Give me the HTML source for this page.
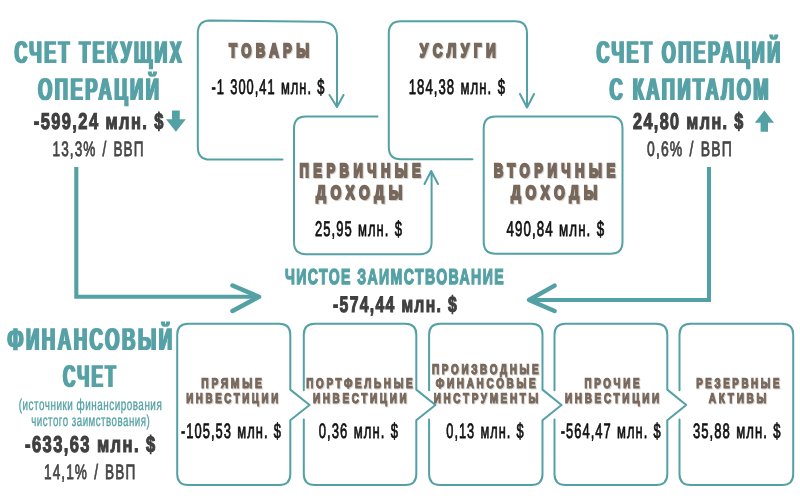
<!DOCTYPE html><html><head><meta charset="utf-8"><style>html,body{margin:0;padding:0;background:#fff}svg{display:block}</style></head><body><svg width="800" height="500" viewBox="0 0 800 500" font-family="'Liberation Sans', sans-serif" text-rendering="geometricPrecision"><defs>
<filter id="fA" x="-5%" y="-30%" width="110%" height="160%"><feMorphology operator="dilate" radius="1 0"/></filter>
<filter id="fS" x="-5%" y="-30%" width="110%" height="170%"><feGaussianBlur in="SourceGraphic" stdDeviation="0.45 0" result="t"/><feOffset in="t" dx="1" dy="1" result="o"/><feGaussianBlur in="o" stdDeviation="0.5" result="ob"/><feComponentTransfer in="ob" result="sh"><feFuncA type="linear" slope="0.3"/></feComponentTransfer><feMerge><feMergeNode in="sh"/><feMergeNode in="t"/></feMerge></filter>
<filter id="fs" x="-5%" y="-30%" width="110%" height="170%"><feOffset in="SourceGraphic" dx="0.8" dy="0.8" result="o"/><feGaussianBlur in="o" stdDeviation="0.4" result="ob"/><feComponentTransfer in="ob" result="sh"><feFuncA type="linear" slope="0.25"/></feComponentTransfer><feMerge><feMergeNode in="sh"/><feMergeNode in="SourceGraphic"/></feMerge></filter>
<filter id="fN" x="-5%" y="-30%" width="110%" height="160%"><feOffset dx="0" dy="0"/></filter>
</defs>
<path d="M282.5,159.6 H210 Q197.8,159.6 197.8,147 V33.5 Q197.8,20.8 210,20.6 L321,21.8 Q337,22.4 337,37 V106 M329.5,95 L337,107 L343.5,95" fill="none" stroke="#54a1a5" stroke-width="2.0" stroke-linecap="round" stroke-linejoin="round"/>
<path d="M472.5,159.3 H401 Q388.8,159.3 388.8,147 V33.5 Q388.8,21.2 401,21.2 H515 Q527,21.2 527,33.5 V106.5 M520,94 L527,107.5 L534,94" fill="none" stroke="#54a1a5" stroke-width="2.0" stroke-linecap="round" stroke-linejoin="round"/>
<path d="M377.5,116.4 H306 Q294,116.4 294,128.5 V242 Q294,254.2 306,254.2 H420 Q431.6,254.2 431.6,242 V172 M424.5,184 L431.2,171 L438,184" fill="none" stroke="#54a1a5" stroke-width="2.0" stroke-linecap="round" stroke-linejoin="round"/>
<path d="M495.7,116.6 H610.5 Q622.5,116.6 622.5,128.6 V241.8 Q622.5,253.8 610.5,253.8 H495.7 Q483.7,253.8 483.7,241.8 V128.6 Q483.7,116.6 495.7,116.6 Z" fill="none" stroke="#54a1a5" stroke-width="2.0" stroke-linecap="round" stroke-linejoin="round"/>
<path d="M177.2,405 V334.8 Q177.2,323.8 188.2,323.8 H279.3 Q290.3,323.8 290.3,334.8 V389.6 L309.6,405 L290.3,420.2 V474 Q290.3,485 279.3,485 H188.2 Q177.2,485 177.2,474 V405" fill="none" stroke="#54a1a5" stroke-width="2.0" stroke-linecap="round" stroke-linejoin="round"/>
<path d="M303.8,390.3 V334.8 Q303.8,323.8 314.8,323.8 H405.3 Q416.3,323.8 416.3,334.8 V389.6 L435.4,405 L416.3,420.2 V474 Q416.3,485 405.3,485 H314.8 Q303.8,485 303.8,474 V419.6" fill="none" stroke="#54a1a5" stroke-width="2.0" stroke-linecap="round" stroke-linejoin="round"/>
<path d="M429.1,390.3 V334.8 Q429.1,323.8 440.1,323.8 H531.5 Q542.5,323.8 542.5,334.8 V389.6 L561.5,405 L542.5,420.2 V474 Q542.5,485 531.5,485 H440.1 Q429.1,485 429.1,474 V419.6" fill="none" stroke="#54a1a5" stroke-width="2.0" stroke-linecap="round" stroke-linejoin="round"/>
<path d="M554.5,390.3 V334.8 Q554.5,323.8 565.5,323.8 H656.3 Q667.3,323.8 667.3,334.8 V389.6 L686.2,405 L667.3,420.2 V474 Q667.3,485 656.3,485 H565.5 Q554.5,485 554.5,474 V419.6" fill="none" stroke="#54a1a5" stroke-width="2.0" stroke-linecap="round" stroke-linejoin="round"/>
<path d="M679.5,390.3 V334.8 Q679.5,323.8 690.5,323.8 H782.2 Q793.2,323.8 793.2,334.8 V474 Q793.2,485 782.2,485 H690.5 Q679.5,485 679.5,474 V419.6" fill="none" stroke="#54a1a5" stroke-width="2.0" stroke-linecap="round" stroke-linejoin="round"/>
<path d="M76.3,167 V296.8 H257" fill="none" stroke="#54a1a5" stroke-width="4.1" stroke-linejoin="miter"/>
<path d="M232.5,285.5 L259,296.8 L232.5,311" fill="none" stroke="#54a1a5" stroke-width="4.5" stroke-linecap="round" stroke-linejoin="round"/>
<path d="M709,167 V300 H531" fill="none" stroke="#54a1a5" stroke-width="4.1" stroke-linejoin="miter"/>
<path d="M554.6,285.6 L529,300 L554.6,311" fill="none" stroke="#54a1a5" stroke-width="4.5" stroke-linecap="round" stroke-linejoin="round"/>
<polygon points="172,110.5 179.75,110.5 179.75,119.2 185.8,119.2 175.9,131.8 166,119.2 172,119.2" fill="#54a1a5"/>
<polygon points="764.4,110.4 774,122.8 768,122.8 768,131.8 760.6,131.8 760.6,122.8 754.8,122.8" fill="#54a1a5"/>
<text x="14.50" y="63" font-size="31.49" font-weight="bold" fill="#54a1a5" letter-spacing="4.25" textLength="169.52" lengthAdjust="spacingAndGlyphs" filter="url(#fA)">СЧЕТ ТЕКУЩИХ</text>
<text x="38.00" y="100" font-size="31.49" font-weight="bold" fill="#54a1a5" letter-spacing="4.25" textLength="123.53" lengthAdjust="spacingAndGlyphs" filter="url(#fA)">ОПЕРАЦИЙ</text>
<text x="596.50" y="63" font-size="31.49" font-weight="bold" fill="#54a1a5" letter-spacing="4.25" textLength="186.04" lengthAdjust="spacingAndGlyphs" filter="url(#fA)">СЧЕТ ОПЕРАЦИЙ</text>
<text x="609.50" y="100" font-size="31.49" font-weight="bold" fill="#54a1a5" letter-spacing="4.25" textLength="161.55" lengthAdjust="spacingAndGlyphs" filter="url(#fA)">С КАПИТАЛОМ</text>
<text x="7.50" y="350" font-size="31.49" font-weight="bold" fill="#54a1a5" letter-spacing="4.25" textLength="167.04" lengthAdjust="spacingAndGlyphs" filter="url(#fA)">ФИНАНСОВЫЙ</text>
<text x="63.00" y="387" font-size="31.49" font-weight="bold" fill="#54a1a5" letter-spacing="4.25" textLength="55.05" lengthAdjust="spacingAndGlyphs" filter="url(#fA)">СЧЕТ</text>
<text x="285.00" y="284" font-size="21.57" font-weight="bold" fill="#54a1a5" letter-spacing="2.16" textLength="220.01" lengthAdjust="spacingAndGlyphs" filter="url(#fN)" stroke="#54a1a5" stroke-width="1.4" stroke-linejoin="miter" stroke-miterlimit="2">ЧИСТОЕ ЗАИМСТВОВАНИЕ</text>
<text x="33.75" y="129" font-size="22.81" font-weight="bold" fill="#3f3f3f" letter-spacing="1.94" textLength="131.01" lengthAdjust="spacingAndGlyphs" filter="url(#fN)" stroke="#3f3f3f" stroke-width="1.15" stroke-linejoin="miter" stroke-miterlimit="2">-599,24 млн. $</text>
<text x="633.00" y="129" font-size="22.81" font-weight="bold" fill="#3f3f3f" letter-spacing="1.94" textLength="111.76" lengthAdjust="spacingAndGlyphs" filter="url(#fN)" stroke="#3f3f3f" stroke-width="1.15" stroke-linejoin="miter" stroke-miterlimit="2">24,80 млн. $</text>
<text x="25.00" y="452" font-size="22.81" font-weight="bold" fill="#3f3f3f" letter-spacing="1.94" textLength="131.52" lengthAdjust="spacingAndGlyphs" filter="url(#fN)" stroke="#3f3f3f" stroke-width="1.15" stroke-linejoin="miter" stroke-miterlimit="2">-633,63 млн. $</text>
<text x="333.00" y="312" font-size="22.38" font-weight="bold" fill="#3f3f3f" letter-spacing="1.90" textLength="125.01" lengthAdjust="spacingAndGlyphs" filter="url(#fN)" stroke="#3f3f3f" stroke-width="1.15" stroke-linejoin="miter" stroke-miterlimit="2">-574,44 млн. $</text>
<text x="52.50" y="156" font-size="20.85" font-weight="normal" fill="#454545" letter-spacing="1.67" word-spacing="1.88" textLength="92.07" lengthAdjust="spacingAndGlyphs" filter="url(#fN)" stroke="#454545" stroke-width="0.8" stroke-linejoin="miter" stroke-miterlimit="2">13,3% / ВВП</text>
<text x="647.00" y="156" font-size="20.85" font-weight="normal" fill="#454545" letter-spacing="1.67" word-spacing="1.88" textLength="85.80" lengthAdjust="spacingAndGlyphs" filter="url(#fN)" stroke="#454545" stroke-width="0.8" stroke-linejoin="miter" stroke-miterlimit="2">0,6% / ВВП</text>
<text x="44.00" y="479" font-size="20.85" font-weight="normal" fill="#454545" letter-spacing="1.67" word-spacing="1.88" textLength="92.33" lengthAdjust="spacingAndGlyphs" filter="url(#fN)" stroke="#454545" stroke-width="0.8" stroke-linejoin="miter" stroke-miterlimit="2">14,1% / ВВП</text>
<text x="18.75" y="410" font-size="15.96" font-weight="normal" fill="#54a1a5" letter-spacing="0.80" textLength="143.51" lengthAdjust="spacingAndGlyphs" filter="url(#fN)" stroke="#54a1a5" stroke-width="0.35" stroke-linejoin="miter" stroke-miterlimit="2">(источники финансирования</text>
<text x="31.25" y="426" font-size="15.96" font-weight="normal" fill="#54a1a5" letter-spacing="0.80" textLength="119.03" lengthAdjust="spacingAndGlyphs" filter="url(#fN)" stroke="#54a1a5" stroke-width="0.35" stroke-linejoin="miter" stroke-miterlimit="2">чистого заимствования)</text>
<text x="229.00" y="57" font-size="19.10" font-weight="bold" fill="#78685c" letter-spacing="6.49" textLength="84.64" lengthAdjust="spacingAndGlyphs" filter="url(#fS)" stroke="#78685c" stroke-width="2.0" stroke-linejoin="miter" stroke-miterlimit="2">ТОВАРЫ</text>
<text x="419.75" y="57" font-size="19.10" font-weight="bold" fill="#78685c" letter-spacing="6.49" textLength="80.65" lengthAdjust="spacingAndGlyphs" filter="url(#fS)" stroke="#78685c" stroke-width="2.0" stroke-linejoin="miter" stroke-miterlimit="2">УСЛУГИ</text>
<text x="299.50" y="177" font-size="19.10" font-weight="bold" fill="#78685c" letter-spacing="6.49" textLength="125.62" lengthAdjust="spacingAndGlyphs" filter="url(#fS)" stroke="#78685c" stroke-width="2.0" stroke-linejoin="miter" stroke-miterlimit="2">ПЕРВИЧНЫЕ</text>
<text x="316.00" y="199" font-size="19.10" font-weight="bold" fill="#78685c" letter-spacing="6.49" textLength="91.11" lengthAdjust="spacingAndGlyphs" filter="url(#fS)" stroke="#78685c" stroke-width="2.0" stroke-linejoin="miter" stroke-miterlimit="2">ДОХОДЫ</text>
<text x="493.75" y="177" font-size="19.10" font-weight="bold" fill="#78685c" letter-spacing="6.49" textLength="125.89" lengthAdjust="spacingAndGlyphs" filter="url(#fS)" stroke="#78685c" stroke-width="2.0" stroke-linejoin="miter" stroke-miterlimit="2">ВТОРИЧНЫЕ</text>
<text x="511.00" y="199" font-size="19.10" font-weight="bold" fill="#78685c" letter-spacing="6.49" textLength="91.11" lengthAdjust="spacingAndGlyphs" filter="url(#fS)" stroke="#78685c" stroke-width="2.0" stroke-linejoin="miter" stroke-miterlimit="2">ДОХОДЫ</text>
<text x="201.25" y="388" font-size="13.99" font-weight="bold" fill="#78685c" letter-spacing="3.78" textLength="63.33" lengthAdjust="spacingAndGlyphs" filter="url(#fs)" stroke="#78685c" stroke-width="1.2" stroke-linejoin="miter" stroke-miterlimit="2">ПРЯМЫЕ</text>
<text x="186.25" y="403" font-size="13.99" font-weight="bold" fill="#78685c" letter-spacing="3.78" textLength="94.56" lengthAdjust="spacingAndGlyphs" filter="url(#fs)" stroke="#78685c" stroke-width="1.2" stroke-linejoin="miter" stroke-miterlimit="2">ИНВЕСТИЦИИ</text>
<text x="306.25" y="388" font-size="13.99" font-weight="bold" fill="#78685c" letter-spacing="3.78" textLength="109.05" lengthAdjust="spacingAndGlyphs" filter="url(#fs)" stroke="#78685c" stroke-width="1.2" stroke-linejoin="miter" stroke-miterlimit="2">ПОРТФЕЛЬНЫЕ</text>
<text x="313.00" y="403" font-size="13.99" font-weight="bold" fill="#78685c" letter-spacing="3.78" textLength="96.33" lengthAdjust="spacingAndGlyphs" filter="url(#fs)" stroke="#78685c" stroke-width="1.2" stroke-linejoin="miter" stroke-miterlimit="2">ИНВЕСТИЦИИ</text>
<text x="432.00" y="374" font-size="13.99" font-weight="bold" fill="#78685c" letter-spacing="3.78" textLength="109.30" lengthAdjust="spacingAndGlyphs" filter="url(#fs)" stroke="#78685c" stroke-width="1.2" stroke-linejoin="miter" stroke-miterlimit="2">ПРОИЗВОДНЫЕ</text>
<text x="435.75" y="388" font-size="13.99" font-weight="bold" fill="#78685c" letter-spacing="3.78" textLength="102.56" lengthAdjust="spacingAndGlyphs" filter="url(#fs)" stroke="#78685c" stroke-width="1.2" stroke-linejoin="miter" stroke-miterlimit="2">ФИНАНСОВЫЕ</text>
<text x="433.75" y="403" font-size="13.99" font-weight="bold" fill="#78685c" letter-spacing="3.78" textLength="107.07" lengthAdjust="spacingAndGlyphs" filter="url(#fs)" stroke="#78685c" stroke-width="1.2" stroke-linejoin="miter" stroke-miterlimit="2">ИНСТРУМЕНТЫ</text>
<text x="584.50" y="388" font-size="13.99" font-weight="bold" fill="#78685c" letter-spacing="3.78" textLength="57.60" lengthAdjust="spacingAndGlyphs" filter="url(#fs)" stroke="#78685c" stroke-width="1.2" stroke-linejoin="miter" stroke-miterlimit="2">ПРОЧИЕ</text>
<text x="565.00" y="403" font-size="13.99" font-weight="bold" fill="#78685c" letter-spacing="3.78" textLength="96.84" lengthAdjust="spacingAndGlyphs" filter="url(#fs)" stroke="#78685c" stroke-width="1.2" stroke-linejoin="miter" stroke-miterlimit="2">ИНВЕСТИЦИИ</text>
<text x="696.25" y="388" font-size="13.99" font-weight="bold" fill="#78685c" letter-spacing="3.78" textLength="85.80" lengthAdjust="spacingAndGlyphs" filter="url(#fs)" stroke="#78685c" stroke-width="1.2" stroke-linejoin="miter" stroke-miterlimit="2">РЕЗЕРВНЫЕ</text>
<text x="708.75" y="403" font-size="13.99" font-weight="bold" fill="#78685c" letter-spacing="3.78" textLength="60.32" lengthAdjust="spacingAndGlyphs" filter="url(#fs)" stroke="#78685c" stroke-width="1.2" stroke-linejoin="miter" stroke-miterlimit="2">АКТИВЫ</text>
<text x="211.50" y="94" font-size="20.99" font-weight="normal" fill="#111111" letter-spacing="1.68" word-spacing="1.05" textLength="114.02" lengthAdjust="spacingAndGlyphs" filter="url(#fN)" stroke="#111111" stroke-width="0.8" stroke-linejoin="miter" stroke-miterlimit="2">-1 300,41 млн. $</text>
<text x="408.75" y="94" font-size="20.99" font-weight="normal" fill="#111111" letter-spacing="1.68" word-spacing="1.05" textLength="97.27" lengthAdjust="spacingAndGlyphs" filter="url(#fN)" stroke="#111111" stroke-width="0.8" stroke-linejoin="miter" stroke-miterlimit="2">184,38 млн. $</text>
<text x="315.00" y="236" font-size="21.14" font-weight="normal" fill="#111111" letter-spacing="1.69" word-spacing="1.06" textLength="88.01" lengthAdjust="spacingAndGlyphs" filter="url(#fN)" stroke="#111111" stroke-width="0.8" stroke-linejoin="miter" stroke-miterlimit="2">25,95 млн. $</text>
<text x="506.50" y="236" font-size="21.14" font-weight="normal" fill="#111111" letter-spacing="1.69" word-spacing="1.06" textLength="98.76" lengthAdjust="spacingAndGlyphs" filter="url(#fN)" stroke="#111111" stroke-width="0.8" stroke-linejoin="miter" stroke-miterlimit="2">490,84 млн. $</text>
<text x="181.00" y="438" font-size="20.85" font-weight="normal" fill="#111111" letter-spacing="1.67" word-spacing="1.04" textLength="101.02" lengthAdjust="spacingAndGlyphs" filter="url(#fN)" stroke="#111111" stroke-width="0.8" stroke-linejoin="miter" stroke-miterlimit="2">-105,53 млн. $</text>
<text x="318.75" y="438" font-size="20.85" font-weight="normal" fill="#111111" letter-spacing="1.67" word-spacing="1.04" textLength="80.27" lengthAdjust="spacingAndGlyphs" filter="url(#fN)" stroke="#111111" stroke-width="0.8" stroke-linejoin="miter" stroke-miterlimit="2">0,36 млн. $</text>
<text x="446.25" y="438" font-size="20.85" font-weight="normal" fill="#111111" letter-spacing="1.67" word-spacing="1.04" textLength="78.51" lengthAdjust="spacingAndGlyphs" filter="url(#fN)" stroke="#111111" stroke-width="0.8" stroke-linejoin="miter" stroke-miterlimit="2">0,13 млн. $</text>
<text x="560.75" y="438" font-size="20.85" font-weight="normal" fill="#111111" letter-spacing="1.67" word-spacing="1.04" textLength="101.01" lengthAdjust="spacingAndGlyphs" filter="url(#fN)" stroke="#111111" stroke-width="0.8" stroke-linejoin="miter" stroke-miterlimit="2">-564,47 млн. $</text>
<text x="693.00" y="438" font-size="20.85" font-weight="normal" fill="#111111" letter-spacing="1.67" word-spacing="1.04" textLength="88.51" lengthAdjust="spacingAndGlyphs" filter="url(#fN)" stroke="#111111" stroke-width="0.8" stroke-linejoin="miter" stroke-miterlimit="2">35,88 млн. $</text>
</svg></body></html>
